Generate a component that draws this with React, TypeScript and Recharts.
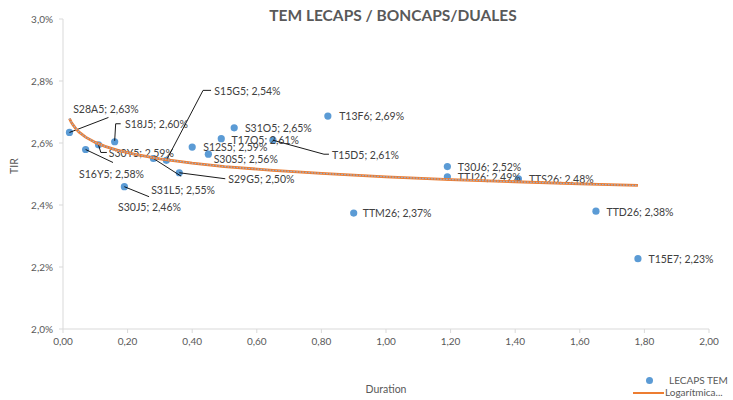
import React from 'react';
import { ScatterChart, Scatter, XAxis, YAxis } from 'recharts';

// LECAPS / BONCAPS / DUALES: duration (x) vs TIR (% y)
const NAMES = [
  'S28A5', 'S16Y5', 'S30Y5', 'S18J5', 'S30J5', 'S31L5', 'S15G5', 'S29G5', 'S12S5', 'S30S5',
  'T17O5', 'S31O5', 'T15D5', 'T13F6', 'TTM26', 'T30J6', 'TTJ26', 'TTS26', 'TTD26', 'T15E7',
];
const DURATION = [
  0.02, 0.07, 0.11, 0.16, 0.19, 0.28, 0.32, 0.36, 0.4, 0.45,
  0.49, 0.53, 0.65, 0.82, 0.9, 1.19, 1.19, 1.41, 1.65, 1.78,
];
const TIR = [
  2.634, 2.579, 2.594, 2.604, 2.459, 2.55, 2.544, 2.504, 2.587, 2.564,
  2.614, 2.649, 2.609, 2.687, 2.374, 2.524, 2.491, 2.484, 2.38, 2.227,
];

// logarithmic trend line
const TREND_X = [0.02, 0.025, 0.03, 0.04, 0.05, 0.07, 0.1, 0.13, 0.17, 0.22, 0.3, 0.4, 0.5, 0.65, 0.8, 1.0, 1.2, 1.4, 1.6, 1.78];
const TREND_Y = [2.679, 2.668, 2.66, 2.646, 2.635, 2.619, 2.602, 2.589, 2.576, 2.564, 2.549, 2.535, 2.524, 2.512, 2.502, 2.491, 2.482, 2.475, 2.468, 2.463];

const X_TICKS = [0, 0.2, 0.4, 0.6, 0.8, 1.0, 1.2, 1.4, 1.6, 1.8, 2.0];
const Y_TICKS = [2.0, 2.2, 2.4, 2.6, 2.8, 3.0];

// label placement relative to each dot (Excel moved some of them by hand)
const LABEL_POS: Record<string, { dx: number; dy: number; leader?: number[][] }> = {
  S28A5: { dx: 3.7, dy: -23.3, leader: [[0, 0], [39, -15]] },
  S16Y5: { dx: -6.6, dy: 24, leader: [[0, 0], [27.4, 13]] },
  S30Y5: { dx: 10.3, dy: 8.4, leader: [[0, 0], [2.3, 7.6], [8.3, 7.6]] },
  S18J5: { dx: 10.3, dy: -18, leader: [[0, -1], [1, -18], [6, -18]] },
  S30J5: { dx: -6.3, dy: 20.6, leader: [[0, 0], [24.7, 10]] },
  S31L5: { dx: -2.3, dy: 31.4, leader: [[0, 0], [27.7, 17.7]] },
  S15G5: { dx: 48, dy: -69.3, leader: [[0, 0], [36.7, -70], [44.7, -70]] },
  S29G5: { dx: 49, dy: 6.7, leader: [[0, 0], [46, 6]] },
  S12S5: { dx: 11, dy: 0 },
  S30S5: { dx: 5.3, dy: 5.3 },
  T17O5: { dx: 10.3, dy: 1 },
  S31O5: { dx: 10.7, dy: 0.3 },
  T15D5: { dx: 59, dy: 15, leader: [[0, 0], [51, 14], [56, 14]] },
  T13F6: { dx: 11.3, dy: 0 },
  TTM26: { dx: 9, dy: 0.4 },
};

const points = NAMES.map((name, i) => ({ name, x: DURATION[i], y: TIR[i] }));
const trend = TREND_X.map((x, i) => ({ x, y: TREND_Y[i] }));

const FONT = 'Lato, "Open Sans", sans-serif';
const GREY = '#595959';

const fmtPct = (v: number) => v.toFixed(2).replace('.', ',') + '%';

const Dot = (props: any) => <circle cx={props.cx} cy={props.cy} r={3.6} fill="#5B9BD5" />;

const PointLabel = (props: any) => {
  const { cx, cy, payload } = props;
  const pos = LABEL_POS[payload.name] || { dx: 10.5, dy: 0.5 };
  return (
    <g>
      {pos.leader && (
        <polyline
          points={pos.leader.map((p) => `${cx + p[0]},${cy + p[1]}`).join(' ')}
          fill="none"
          stroke="#000"
          strokeWidth={0.9}
        />
      )}
      <text
        x={cx + pos.dx}
        y={cy + pos.dy}
        dominantBaseline="central"
        fontSize={10.5}
        fontFamily={FONT}
        fill="#404040"
      >
        {`${payload.name}; ${fmtPct(payload.y)}`}
      </text>
    </g>
  );
};

const NoShape = () => <g />;

export default function App() {
  return (
    <div style={{ position: 'absolute', left: 0, top: 0, width: 733, height: 400, background: '#fff' }}>
      <div
        style={{
          position: 'absolute',
          left: 393,
          top: 6,
          transform: 'translateX(-50%)',
          whiteSpace: 'nowrap',
          fontFamily: FONT,
          fontWeight: 700,
          fontSize: 15.5,
          lineHeight: '18px',
          color: GREY,
        }}
      >
        TEM LECAPS / BONCAPS/DUALES
      </div>
      <ScatterChart width={733} height={400} margin={{ top: 19, right: 24, left: 0, bottom: 0 }}>
        <XAxis
          type="number"
          dataKey="x"
          domain={[0, 2]}
          ticks={X_TICKS}
          tickFormatter={(v: number) => v.toFixed(2).replace('.', ',')}
          height={71}
          stroke="#D9D9D9"
          tickSize={4}
          tickMargin={5}
          tick={{ fill: GREY, fontSize: 10, fontFamily: FONT }}
          label={{ value: 'Duration', position: 'insideBottom', offset: 7, fill: GREY, fontSize: 10.5, fontFamily: FONT }}
        />
        <YAxis
          type="number"
          dataKey="y"
          domain={[2, 3]}
          ticks={Y_TICKS}
          tickFormatter={(v: number) => v.toFixed(1).replace('.', ',') + '%'}
          width={63}
          stroke="#D9D9D9"
          tickSize={4}
          tickMargin={6}
          tick={{ fill: GREY, fontSize: 10, fontFamily: FONT }}
          label={{ value: 'TIR', angle: -90, position: 'insideLeft', offset: 14, fill: GREY, fontSize: 10.5, fontFamily: FONT }}
        />
        <Scatter data={points} shape={Dot} isAnimationActive={false} />
        <Scatter data={points} shape={PointLabel} isAnimationActive={false} />
        <Scatter
          data={trend}
          shape={NoShape}
          line={{ stroke: '#ED7D31', strokeWidth: 2.8 }}
          lineType="joint"
          isAnimationActive={false}
        />
        <Scatter
          data={trend}
          shape={NoShape}
          line={{ stroke: '#8FB4DE', strokeWidth: 1.2, strokeDasharray: '1.5 1.5' }}
          lineType="joint"
          isAnimationActive={false}
        />
      </ScatterChart>
      <div style={{ position: 'absolute', left: 0, top: 0, fontFamily: FONT, fontSize: 10, color: GREY }}>
        <div style={{ position: 'absolute', left: 646, top: 377, width: 7, height: 7, borderRadius: '50%', background: '#5B9BD5' }} />
        <div style={{ position: 'absolute', left: 669, top: 374, whiteSpace: 'nowrap', lineHeight: '13px' }}>LECAPS TEM</div>
        <div style={{ position: 'absolute', left: 633, top: 392, width: 31, height: 2, background: '#ED7D31' }} />
        <div style={{ position: 'absolute', left: 665, top: 386, whiteSpace: 'nowrap', lineHeight: '13px' }}>Logarítmica...</div>
      </div>
    </div>
  );
}
